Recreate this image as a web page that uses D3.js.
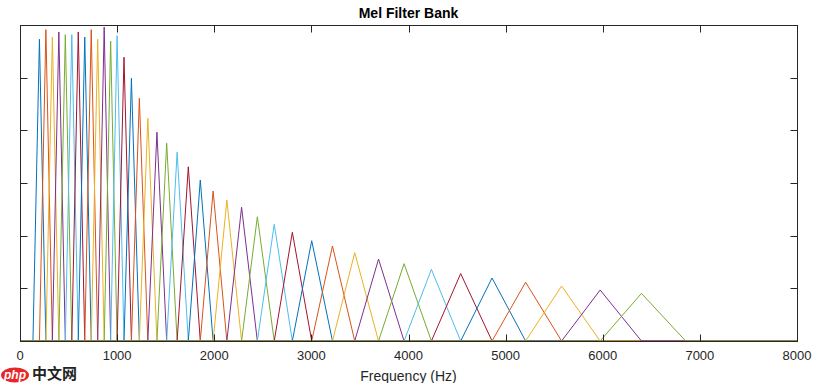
<!DOCTYPE html>
<html><head><meta charset="utf-8">
<script src="https://cdn.jsdelivr.net/npm/d3@7"></script>
<style>body{margin:0;background:#fff} svg{display:block}</style>
</head><body><svg id="c" width="818" height="383"></svg>
<script>
const title = "Mel Filter Bank";
const xLabel = "Frequency (Hz)";
const xTicks = [0, 1000, 2000, 3000, 4000, 5000, 6000, 7000, 8000];
const yTicks = [0, 0.0025, 0.005, 0.0075, 0.01, 0.0125, 0.015];
// filter band edges (Hz): filter i spans edges[i] .. edges[i+2], peak at edges[i+1]
const edges = [133.3, 200, 266.7, 333.3, 400, 466.7, 533.3, 600, 666.7, 733.3, 800, 866.7, 933.3,
  999.8, 1070.9, 1147.1, 1228.8, 1316.2, 1409.9, 1510.2, 1617.7, 1732.9, 1856.2, 1988.3, 2129.8,
  2281.4, 2443.8, 2617.7, 2804.0, 3003.5, 3217.3, 3446.3, 3691.5, 3954.3, 4235.7, 4537.1, 4860.1,
  5205.9, 5576.4, 5973.3, 6398.4, 6853.8];
// peak height of each filter
const peaks = [0.01432, 0.01478, 0.01442, 0.01467, 0.01454, 0.01454, 0.01467, 0.01443, 0.01478,
  0.01432, 0.01490, 0.01424, 0.01449, 0.01347, 0.01247, 0.01152, 0.01057, 0.00991, 0.00939,
  0.00896, 0.00827, 0.00764, 0.00712, 0.00669, 0.00635, 0.00590, 0.00554, 0.00516, 0.00476,
  0.00451, 0.00419, 0.00389, 0.00367, 0.00340, 0.00320, 0.00299, 0.00279, 0.00261, 0.00242, 0.00226];
const colors = ["#0072BD", "#D95319", "#EDB120", "#7E2F8E", "#77AC30", "#4DBEEE", "#A2142F"];

const svg = d3.select("#c");
const L = 20, R = 797, T = 25, B = 341;
const x = d3.scaleLinear().domain([0, 8000]).range([L, R]);
const y = d3.scaleLinear().domain([0, 0.015]).range([B, T]);
const axisColor = "#262626";
const font = "Arial, 'Liberation Sans', Helvetica, sans-serif";

// filters
const line = d3.line().x(d => x(d[0])).y(d => y(d[1]));
const g = svg.append("g");
peaks.forEach((p, i) => {
  const pts = [[0, 0], [edges[i], 0], [edges[i + 1], p], [edges[i + 2], 0], [8000, 0]];
  g.append("path").attr("d", line(pts)).attr("fill", "none")
    .attr("stroke", colors[i % colors.length]).attr("stroke-width", 1);
});

// box
svg.append("rect").attr("x", L + 0.5).attr("y", T + 0.5).attr("width", R - L).attr("height", B - T)
  .attr("fill", "none").attr("stroke", axisColor).attr("stroke-width", 1);

const tl = 7;
const ax = svg.append("g").attr("stroke", axisColor).attr("stroke-width", 1);
xTicks.forEach(t => {
  const px = Math.round(x(t)) + 0.5;
  ax.append("line").attr("x1", px).attr("x2", px).attr("y1", B + 0.5).attr("y2", B + 0.5 - tl);
  ax.append("line").attr("x1", px).attr("x2", px).attr("y1", T + 0.5).attr("y2", T + 0.5 + tl);
});
yTicks.forEach(t => {
  const py = Math.round(y(t)) + 0.5;
  ax.append("line").attr("x1", L + 0.5).attr("x2", L + 0.5 + tl).attr("y1", py).attr("y2", py);
  ax.append("line").attr("x1", R + 0.5).attr("x2", R + 0.5 - tl).attr("y1", py).attr("y2", py);
});

svg.append("g").selectAll("text").data(xTicks).join("text")
  .attr("x", d => x(d)).attr("y", 360).attr("text-anchor", "middle")
  .attr("font-family", font).attr("font-size", 13).attr("fill", axisColor).text(d => d);

svg.append("text").attr("x", (L + R) / 2).attr("y", 381).attr("text-anchor", "middle")
  .attr("font-family", font).attr("font-size", 14).attr("fill", axisColor).text(xLabel);

svg.append("text").attr("x", (L + R) / 2).attr("y", 18).attr("text-anchor", "middle")
  .attr("font-family", font).attr("font-size", 14).attr("font-weight", "bold").attr("fill", "#000").text(title);

// watermark
const wm = svg.append("g");
wm.append("ellipse").attr("cx", 15).attr("cy", 375).attr("rx", 14).attr("ry", 7.5).attr("fill", "#e8262a");
wm.append("text").attr("x", 15).attr("y", 379).attr("text-anchor", "middle").attr("font-family", font)
  .attr("font-size", 12).attr("font-weight", "bold").attr("font-style", "italic").attr("fill", "#fff").text("php");
wm.append("text").attr("x", 32).attr("y", 379).attr("font-family", "'Noto Sans CJK SC', sans-serif")
  .attr("font-size", 15).attr("font-weight", "bold").attr("fill", "#222").text("中文网");
</script></body></html>
